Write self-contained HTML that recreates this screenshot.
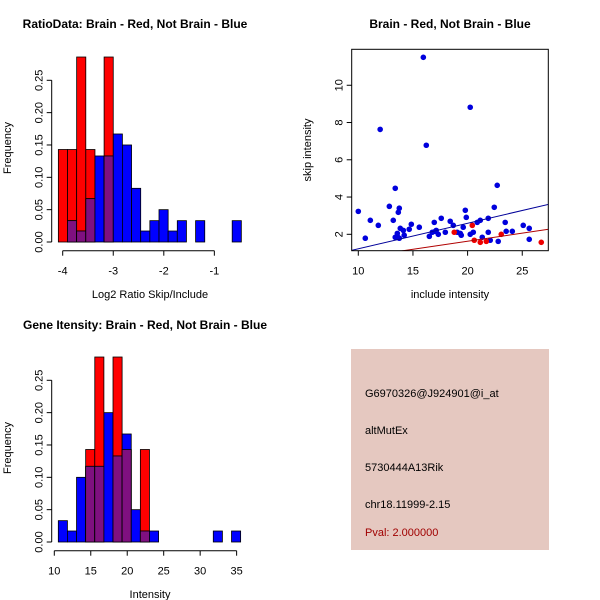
<!DOCTYPE html>
<html><head><meta charset="utf-8"><style>
body{margin:0;background:#fff;}
svg{display:block;font-family:"Liberation Sans",Arial,sans-serif;}
</style></head><body>
<svg id="c" width="600" height="600" viewBox="0 0 600 600">
<rect width="600" height="600" fill="#fff"/>
<g id="p1"></g>
<g id="p2"></g>
<g id="p3"></g>
<g id="p4">
<rect x="351" y="349" width="198" height="201" fill="#e5c8c0"/>
<text x="365" y="397" font-size="11">G6970326@J924901@i_at</text>
<text x="365" y="434" font-size="11">altMutEx</text>
<text x="365" y="471" font-size="11">5730444A13Rik</text>
<text x="365" y="508" font-size="11">chr18.11999-2.15</text>
<text x="365" y="536" font-size="11" fill="#a00000">Pval: 2.000000</text>
</g>
</svg>
<script>
// Ratio histogram data
const ratioBreakStart = -4.086;
const ratioBinWidth = 0.181;
const ratioRed = [0.143,0.143,0.286,0.143,0,0.286,0,0,0,0,0,0,0,0,0,0,0,0,0,0];
const ratioBlue = [0,0.033,0.017,0.067,0.133,0.133,0.167,0.15,0.083,0.017,0.033,0.05,0.017,0.033,0,0.033,0,0,0,0.033];
const ratioXTicks = [-4,-3,-2,-1];
// Intensity histogram data
const intBreakStart = 10.55;
const intBinWidth = 1.25;
const intRed = [0,0,0,0.143,0.286,0,0.286,0.143,0,0.143,0,0,0,0,0,0,0,0,0,0];
const intBlue = [0.033,0.017,0.1,0.117,0.117,0.2,0.133,0.167,0.05,0.017,0.017,0,0,0,0,0,0,0.017,0,0.017];
const intXTicks = [10,15,20,25,30,35];
const freqTicks = [0,0.05,0.10,0.15,0.20,0.25];
const freqLabels = ["0.00","0.05","0.10","0.15","0.20","0.25"];
// Scatter data
const blueX = [10,10.64,11.1,11.83,12.0,12.84,13.2,13.38,13.38,13.57,13.57,13.66,13.75,13.75,13.84,14.12,14.2,14.66,14.85,15.58,15.95,16.22,16.5,16.77,16.95,17.04,17.13,17.32,17.59,17.96,18.41,18.69,19.05,19.33,19.42,19.6,19.79,19.88,20.24,20.24,20.52,20.88,21.16,21.34,21.89,21.89,22.07,22.44,22.71,22.8,23.44,23.53,24.09,25.09,25.64,25.64];
const blueY = [3.23,1.79,2.75,2.48,7.63,3.5,2.75,4.47,1.84,1.89,2.05,3.18,3.4,1.79,2.32,2.21,1.95,2.27,2.54,2.38,11.5,6.78,1.89,2.11,2.64,2.16,2.21,2.0,2.86,2.11,2.7,2.48,2.11,2.05,1.95,2.38,3.29,2.91,8.82,2.0,2.11,2.64,2.75,1.84,2.86,2.11,1.68,3.45,4.63,1.62,2.64,2.16,2.16,2.48,2.32,1.73];
const redX = [18.78,20.43,20.61,21.16,21.71,23.08,26.74];
const redY = [2.11,2.48,1.68,1.57,1.62,2.0,1.57];
const blueFit = [-0.147,0.137]; // intercept, slope
const redFit = [-0.103,0.0866];
const scatXTicks = [10,15,20,25];
const scatYTicks = [2,4,6,8,10];

const NS="http://www.w3.org/2000/svg";
function mk(parent,tag,attrs,name,text){
  const e=document.createElementNS(NS,tag);
  for(const k in attrs) e.setAttribute(k,attrs[k]);
  
  
  if(text!==undefined) e.textContent=text;
  parent.appendChild(e);return e;
}
function vtext(g,x,y,s,name,size){
  return mk(g,'text',{x:x,y:y,'font-size':size||11,'text-anchor':'middle',transform:`rotate(-90 ${x} ${y})`},name,s);
}

function hist(g,o){
  const sx=v=>o.x0px+(v-o.x0val)*o.pxu;
  const sy=v=>o.y0px-v*o.pyu;
  mk(g,'text',{x:o.titleX,y:o.titleY,'font-size':12,'font-weight':'bold','text-anchor':'middle'},'chart-title',o.title);
  for(let i=0;i<o.red.length;i++){
    const l=sx(o.bs+i*o.bw), r=sx(o.bs+(i+1)*o.bw);
    const R=o.red[i],B=o.blue[i],m=Math.min(R,B);
    if(R>0) mk(g,'rect',{x:l,y:sy(R),width:r-l,height:sy(0)-sy(R),fill:'#ff0000',stroke:'#000','stroke-width':0.8},'red-bar');
    if(B>0) mk(g,'rect',{x:l,y:sy(B),width:r-l,height:sy(0)-sy(B),fill:'#0000ff',stroke:'#000','stroke-width':0.8},'blue-bar');
    if(m>0) mk(g,'rect',{x:l,y:sy(m),width:r-l,height:sy(0)-sy(m),fill:'#7f1080',stroke:'#000','stroke-width':0.8},'overlap-bar');
  }
  const ax=o.yAxisX;
  mk(g,'line',{x1:ax,x2:ax,y1:sy(0),y2:sy(0.25),stroke:'#000'},'y-axis-line');
  freqTicks.forEach((t,i)=>{
    mk(g,'line',{x1:ax-5,x2:ax,y1:sy(t),y2:sy(t),stroke:'#000'},'y-tick');
    vtext(g,ax-9,sy(t),freqLabels[i],'y-tick-label');
  });
  const ay=o.xAxisY, ticks=o.xticks;
  mk(g,'line',{x1:sx(ticks[0]),x2:sx(ticks[ticks.length-1]),y1:ay,y2:ay,stroke:'#000'},'x-axis-line');
  ticks.forEach(t=>{
    mk(g,'line',{x1:sx(t),x2:sx(t),y1:ay,y2:ay+5,stroke:'#000'},'x-tick');
    mk(g,'text',{x:sx(t),y:ay+24,'font-size':11,'text-anchor':'middle'},'x-tick-label',String(t));
  });
  mk(g,'text',{x:o.xlabX,y:o.xlabY,'font-size':11,'text-anchor':'middle'},'x-axis-title',o.xlab);
  vtext(g,11,o.ylabY,'Frequency','y-axis-title');
}

hist(document.getElementById('p1'),{title:'RatioData: Brain - Red, Not Brain - Blue',titleX:135,titleY:28,
  x0px:62.7,x0val:-4,pxu:50.55,y0px:242,pyu:646.8,bs:ratioBreakStart,bw:ratioBinWidth,
  red:ratioRed,blue:ratioBlue,xticks:ratioXTicks,yAxisX:51.7,xAxisY:250.7,xlab:'Log2 Ratio Skip/Include',xlabX:150,xlabY:298,ylabY:148});
hist(document.getElementById('p3'),{title:'Gene Itensity: Brain - Red, Not Brain - Blue',titleX:145,titleY:329,
  x0px:54.3,x0val:10,pxu:7.293,y0px:542,pyu:646.8,bs:intBreakStart,bw:intBinWidth,
  red:intRed,blue:intBlue,xticks:intXTicks,yAxisX:51.7,xAxisY:550.7,xlab:'Intensity',xlabX:150,xlabY:598,ylabY:448});

// Scatter
(function(){
  const g=document.getElementById('p2');
  const sx=v=>358.3+(v-10)*10.93;
  const sy=v=>234.3-(v-2)*18.63;
  const L=351.7,R=548.3,T=49.3,B=250.7;
  mk(g,'text',{x:450,y:28,'font-size':12,'font-weight':'bold','text-anchor':'middle'},'chart-title','Brain - Red, Not Brain - Blue');
  const cp=mk(g,'clipPath',{id:'sc'},'plot-clip');
  mk(cp,'rect',{x:L,y:T,width:R-L,height:B-T},'clip-rect');
  const pg=mk(g,'g',{'clip-path':'url(#sc)'},'plot-area');
  blueX.forEach((x,i)=>mk(pg,'circle',{cx:sx(x),cy:sy(blueY[i]),r:2.8,fill:'#0000dd'},'blue-point'));
  redX.forEach((x,i)=>mk(pg,'circle',{cx:sx(x),cy:sy(redY[i]),r:2.8,fill:'#ee0000'},'red-point'));
  const x1=9.3,x2=27.5;
  mk(pg,'line',{x1:sx(x1),x2:sx(x2),y1:sy(blueFit[0]+blueFit[1]*x1),y2:sy(blueFit[0]+blueFit[1]*x2),stroke:'#000099'},'blue-fit-line');
  mk(pg,'line',{x1:sx(x1),x2:sx(x2),y1:sy(redFit[0]+redFit[1]*x1),y2:sy(redFit[0]+redFit[1]*x2),stroke:'#b00000'},'red-fit-line');
  mk(g,'rect',{x:L,y:T,width:R-L,height:B-T,fill:'none',stroke:'#000'},'plot-frame');
  scatXTicks.forEach(t=>{
    mk(g,'line',{x1:sx(t),x2:sx(t),y1:B,y2:B+5,stroke:'#000'},'x-tick');
    mk(g,'text',{x:sx(t),y:B+24,'font-size':11,'text-anchor':'middle'},'x-tick-label',String(t));
  });
  scatYTicks.forEach(t=>{
    mk(g,'line',{x1:L-5,x2:L,y1:sy(t),y2:sy(t),stroke:'#000'},'y-tick');
    vtext(g,L-9,sy(t),String(t),'y-tick-label');
  });
  mk(g,'text',{x:450,y:298,'font-size':11,'text-anchor':'middle'},'x-axis-title','include intensity');
  vtext(g,311,150,'skip intensity','y-axis-title');
})();
</script>
</body></html>
